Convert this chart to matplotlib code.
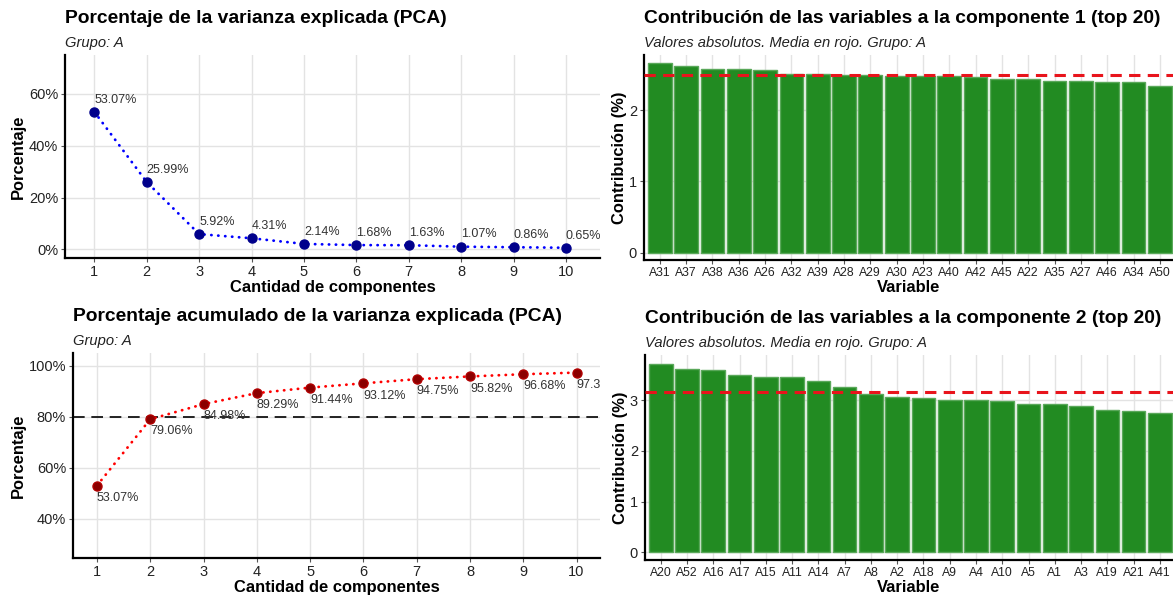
import numpy as np
import matplotlib
matplotlib.use("Agg")
import matplotlib.pyplot as plt
from matplotlib.ticker import FuncFormatter

plt.rcParams['font.family'] = ['Liberation Sans', 'DejaVu Sans']

# Varianza explicada por componente (%)
componentes = list(range(1, 11))
var_explicada = [53.07, 25.99, 5.92, 4.31, 2.14, 1.68, 1.63, 1.07, 0.86, 0.65]
var_acumulada = [53.07, 79.06, 84.98, 89.29, 91.44, 93.12, 94.75, 95.82, 96.68, 97.33]
umbral = 80

# Contribuciones (%) a la componente 1
vars_c1 = ['A31', 'A37', 'A38', 'A36', 'A26', 'A32', 'A39', 'A28', 'A29', 'A30',
           'A23', 'A40', 'A42', 'A45', 'A22', 'A35', 'A27', 'A46', 'A34', 'A50']
contrib_c1 = [2.655, 2.62, 2.575, 2.575, 2.556, 2.51, 2.505, 2.495, 2.486, 2.48,
              2.475, 2.47, 2.46, 2.44, 2.43, 2.41, 2.405, 2.397, 2.39, 2.34]

# Contribuciones (%) a la componente 2
vars_c2 = ['A20', 'A52', 'A16', 'A17', 'A15', 'A11', 'A14', 'A7', 'A8', 'A2',
           'A18', 'A9', 'A4', 'A10', 'A5', 'A1', 'A3', 'A19', 'A21', 'A41']
contrib_c2 = [3.72, 3.61, 3.585, 3.50, 3.46, 3.45, 3.38, 3.257, 3.12, 3.06,
              3.047, 2.994, 2.994, 2.988, 2.915, 2.915, 2.88, 2.797, 2.777, 2.745]

W, H = 1173, 599
fig = plt.figure(figsize=(W / 100, H / 100), dpi=100)


def px_axes(left, top, right, bottom):
    return fig.add_axes([left / W, 1 - bottom / H, (right - left) / W, (bottom - top) / H])


def estilo(ax):
    for s in ['top', 'right']:
        ax.spines[s].set_visible(False)
    for s in ['left', 'bottom']:
        ax.spines[s].set_linewidth(1.6)
        ax.spines[s].set_color('black')
    ax.grid(True, color='#e3e3e3', linewidth=1.0)
    ax.set_axisbelow(True)
    ax.tick_params(length=3, width=0.8, pad=2, color='#555555', labelcolor='#222222',
                   labelsize=10.5)


def titulos(ax, titulo, subtitulo):
    ax.text(0, 1.18, titulo, transform=ax.transAxes, fontsize=13.9, fontweight='bold',
            ha='left', va='center')
    ax.text(0, 1.06, subtitulo, transform=ax.transAxes, fontsize=10.6, style='italic',
            ha='left', va='center', color='#222222')


pct = FuncFormatter(lambda v, p: f"{v:.0f}%")

# Varianza explicada
ax1 = px_axes(65, 55, 600, 258)
estilo(ax1)
ax1.plot(componentes, var_explicada, color='blue', lw=2.0, linestyle=(0, (0.1, 2.4)),
         dash_capstyle='round', zorder=2)
ax1.plot(componentes, var_explicada, 'o', color='#00008B', markersize=6.5, zorder=3)
for x, y in zip(componentes, var_explicada):
    ax1.annotate(f"{y:.2f}%", (x, y), xytext=(0, 4.5), textcoords='offset points',
                 ha='left', va='bottom', fontsize=9, color='#333333')
ax1.set_xlim(0.44, 10.65)
ax1.set_ylim(-3.3, 75)
ax1.set_xticks(componentes)
ax1.set_yticks([0, 20, 40, 60])
ax1.yaxis.set_major_formatter(pct)
ax1.set_xlabel('Cantidad de componentes', fontsize=11.9, fontweight='bold', labelpad=1)
ax1.set_ylabel('Porcentaje', fontsize=11.9, fontweight='bold', labelpad=2)
titulos(ax1, 'Porcentaje de la varianza explicada (PCA)', 'Grupo: A')

# Varianza acumulada
ax2 = px_axes(73, 353, 600, 558)
estilo(ax2)
ax2.axhline(umbral, color='black', lw=1.2, linestyle=(0, (7, 4)), zorder=1.5)
ax2.plot(componentes, var_acumulada, color='red', lw=2.0, linestyle=(0, (0.1, 2.4)),
         dash_capstyle='round', zorder=2)
ax2.plot(componentes, var_acumulada, 'o', color='#8B0000', markeredgecolor='#b00000',
         markersize=6.5, zorder=3)
for x, y in zip(componentes, var_acumulada):
    ax2.annotate(f"{y:.2f}%", (x, y), xytext=(0, -4.5), textcoords='offset points',
                 ha='left', va='top', fontsize=9, color='#333333', annotation_clip=True,
                 clip_on=True)
ax2.set_xlim(0.55, 10.44)
ax2.set_ylim(24.7, 105)
ax2.set_xticks(componentes)
ax2.set_yticks([40, 60, 80, 100])
ax2.yaxis.set_major_formatter(pct)
ax2.set_xlabel('Cantidad de componentes', fontsize=11.9, fontweight='bold', labelpad=1)
ax2.set_ylabel('Porcentaje', fontsize=11.9, fontweight='bold', labelpad=2)
titulos(ax2, 'Porcentaje acumulado de la varianza explicada (PCA)', 'Grupo: A')


def barras(ax, nombres, valores, num, ylim, yticks):
    estilo(ax)
    pos = np.arange(len(nombres))
    ax.bar(pos, valores, width=0.9, color='#228B22', edgecolor='#5aa85a', linewidth=1.0,
           zorder=2)
    ax.axhline(np.mean(valores), color='#e8141c', lw=2.2, linestyle=(0, (3.7, 2.4)), zorder=3)
    ax.set_xticks(pos)
    ax.set_xticklabels(nombres, fontsize=8.8)
    ax.set_xlim(-0.6, 19.5)
    ax.set_ylim(*ylim)
    ax.set_yticks(yticks)
    ax.set_xlabel('Variable', fontsize=11.9, fontweight='bold', labelpad=1)
    ax.set_ylabel('Contribución (%)', fontsize=11.9, fontweight='bold', labelpad=1)
    titulos(ax, f'Contribución de las variables a la componente {num} (top 20)',
            'Valores absolutos. Media en rojo. Grupo: A')


ax3 = px_axes(644, 55, 1173, 260)
barras(ax3, vars_c1, contrib_c1, 1, (-0.1, 2.77), [0, 1, 2])

ax4 = px_axes(645, 355, 1173, 560)
barras(ax4, vars_c2, contrib_c2, 2, (-0.15, 3.89), [0, 1, 2, 3])

fig.savefig('out.png', dpi=100)
